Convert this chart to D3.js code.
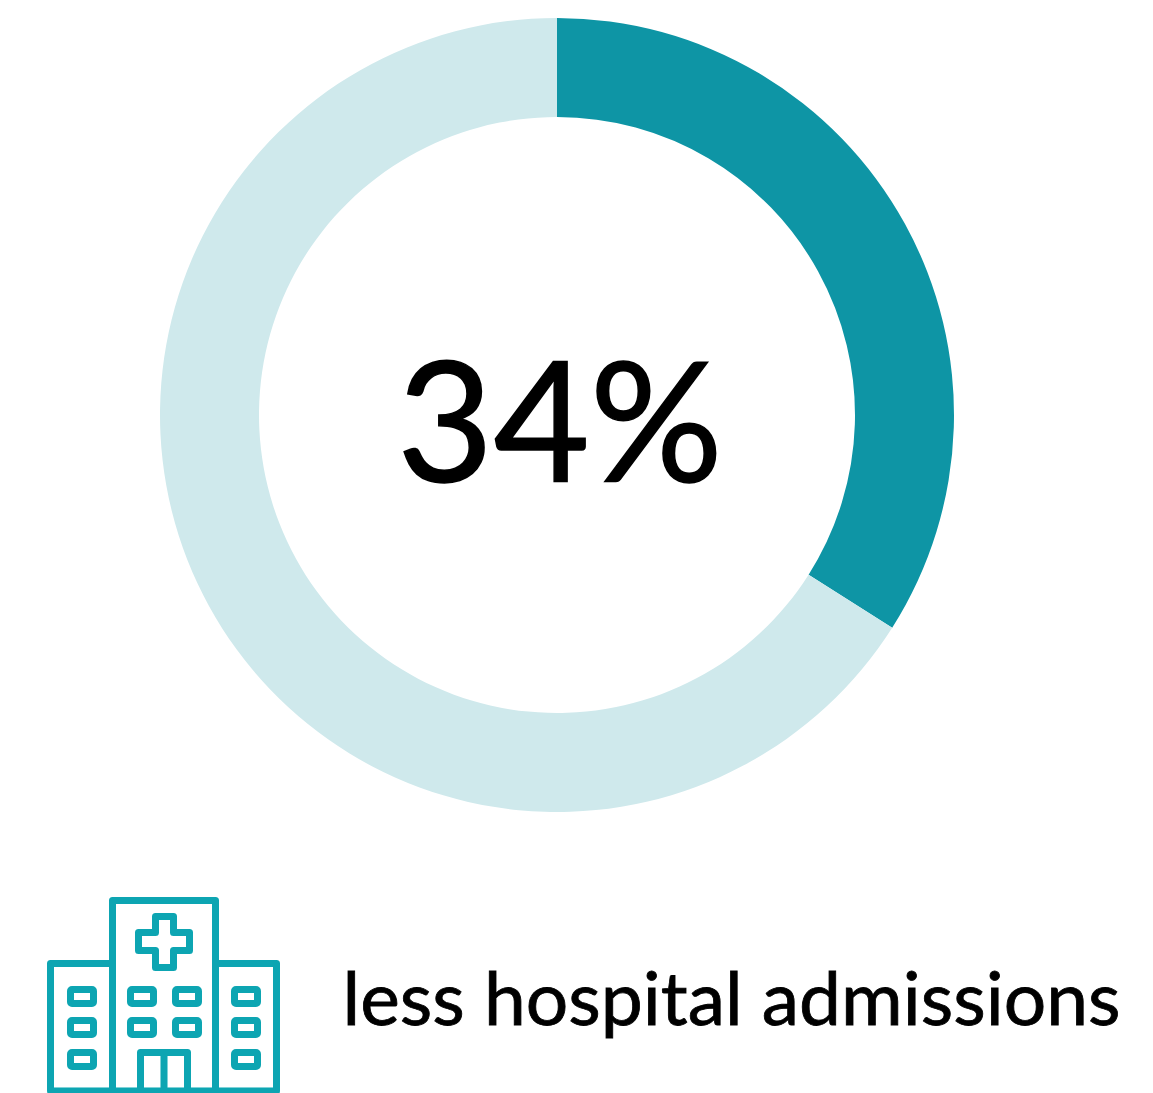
<!DOCTYPE html>
<html><head><meta charset="utf-8">
<script src="https://cdn.jsdelivr.net/npm/d3@7"></script>
<style>html,body{margin:0;padding:0;background:#fff;overflow:hidden}</style>
</head><body><svg id="c" width="1153" height="1093"></svg>
<script>
const labels = ["less hospital admissions", "rest"];
const values = [34, 66];
const colours = ["#0e95a5", "#cfe9ec"];
const centreText = "34%";
const caption = "less hospital admissions";
const svg = d3.select("#c");
const g = svg.append("g").attr("transform","translate(557,415)");
const pie = d3.pie().sort(null)(values);
const arc = d3.arc().innerRadius(298).outerRadius(397);
g.selectAll("path").data(pie).join("path").attr("d",arc).attr("fill",(d,i)=>colours[i]);
const font = "Lato,'Open Sans',sans-serif";
svg.append("text").attr("x",397).attr("y",482).attr("font-family",font).attr("font-size",166)
  .attr("textLength",326).attr("lengthAdjust","spacingAndGlyphs").attr("fill","#000")
  .attr("stroke","#000").attr("stroke-width",1.5).text(centreText);
svg.append("text").attr("x",342.5).attr("y",1025).attr("font-family",font).attr("font-size",73)
  .attr("textLength",778).attr("lengthAdjust","spacingAndGlyphs").attr("fill","#000")
  .attr("stroke","#000").attr("stroke-width",0.8).text(caption);
const defs = svg.append("defs");
defs.append("filter").attr("id","soft").attr("x","-5%").attr("y","-5%").attr("width","110%").attr("height","110%")
  .append("feGaussianBlur").attr("stdDeviation",0.7);
const ic = svg.append("g").attr("fill","none").attr("stroke","#0ba5b2").attr("stroke-width",7)
  .attr("stroke-linejoin","round").attr("filter","url(#soft)");
ic.append("path").attr("d","M112.5 1091V900.5H215.5V1091M112.5 963.5H50.5V1091H276.5V963.5H215.5");
ic.append("path").attr("d","M155.5 916.5H173.5V932.5H189.5V950.5H173.5V967.5H155.5V950.5H138.5V932.5H155.5Z");
ic.append("path").attr("d","M140.5 1091V1052.5H187.5V1091M164 1052.5V1091");
const rects=[[70.5,989.5],[70.5,1020.5],[70.5,1052.5],[130.5,989.5],[130.5,1020.5],[175.5,989.5],[175.5,1020.5],[234.5,989.5],[234.5,1020.5],[234.5,1052.5]];
ic.selectAll("rect").data(rects).join("rect").attr("x",d=>d[0]).attr("y",d=>d[1]).attr("width",23).attr("height",14).attr("rx",1.5);
</script></body></html>
